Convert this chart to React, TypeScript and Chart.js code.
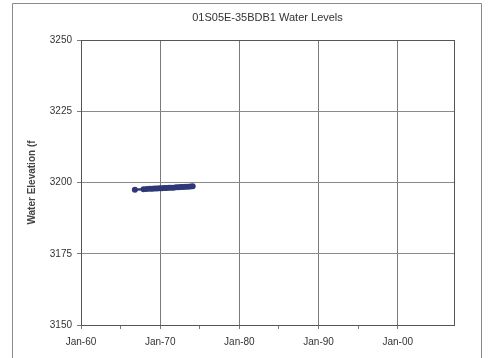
import React, { useEffect, useRef } from "react";
import { Chart, registerables } from "chart.js";

Chart.register(...registerables);

const chartTitle = "01S05E-35BDB1 Water Levels";
const yAxisTitle = "Water Elevation (f";
const xTickYears = [1960, 1970, 1980, 1990, 2000];
const xTickLabels = ["Jan-60", "Jan-70", "Jan-80", "Jan-90", "Jan-00"];
const measurementDates = [
  1966.8, 1967.9, 1968.3, 1968.7, 1969.0, 1969.3, 1969.6, 1969.9, 1970.2, 1970.5,
  1970.8, 1971.1, 1971.4, 1971.7, 1972.0, 1972.3, 1972.6, 1972.9, 1973.2, 1973.5,
  1973.8, 1974.1,
];
const waterElevations = [
  3197.5, 3197.6, 3197.7, 3197.8, 3197.8, 3197.9, 3197.9, 3198.0, 3198.0, 3198.1,
  3198.1, 3198.2, 3198.2, 3198.2, 3198.3, 3198.3, 3198.4, 3198.4, 3198.5, 3198.5,
  3198.6, 3198.7,
];

const framePlugin = {
  id: "frame",
  beforeDraw(chart: any) {
    const { ctx, chartArea, width } = chart;
    ctx.save();
    ctx.fillStyle = "#ffffff";
    ctx.fillRect(0, 0, chart.width, chart.height);
    ctx.strokeStyle = "#8a8a8a";
    ctx.lineWidth = 1;
    ctx.beginPath();
    ctx.moveTo(12.5, chart.height + 2);
    ctx.lineTo(12.5, 3.5);
    ctx.lineTo(width - 7.5, 3.5);
    ctx.lineTo(width - 7.5, chart.height + 2);
    ctx.stroke();
    // title
    ctx.fillStyle = "#333333";
    ctx.font = "11px 'Liberation Sans', Arial, sans-serif";
    ctx.textAlign = "center";
    ctx.textBaseline = "middle";
    ctx.fillText(chartTitle, (chartArea.left + chartArea.right) / 2, 18);
    // y axis title
    ctx.translate(32, (chartArea.top + chartArea.bottom) / 2);
    ctx.rotate(-Math.PI / 2);
    ctx.font = "bold 10px 'Liberation Sans', Arial, sans-serif";
    ctx.fillStyle = "#444444";
    ctx.fillText(yAxisTitle, 0, 0);
    ctx.restore();
  },
  afterDraw(chart: any) {
    const { ctx, chartArea } = chart;
    ctx.save();
    ctx.strokeStyle = "#555555";
    ctx.lineWidth = 1;
    ctx.strokeRect(
      Math.round(chartArea.left) + 0.5,
      Math.round(chartArea.top) + 0.5,
      Math.round(chartArea.right - chartArea.left),
      Math.round(chartArea.bottom - chartArea.top)
    );
    ctx.restore();
  },
};

export default function App() {
  const ref = useRef<HTMLCanvasElement | null>(null);
  useEffect(() => {
    document.body.style.margin = "0";
    const canvas = ref.current;
    if (!canvas) return;
    const chart = new Chart(canvas, {
      type: "line",
      data: {
        datasets: [
          {
            data: measurementDates.map((d, i) => ({ x: d, y: waterElevations[i] })),
            borderColor: "#2e3878",
            backgroundColor: "#2e3878",
            borderWidth: 2.5,
            pointRadius: 3,
            pointBorderWidth: 0,
            tension: 0,
          },
        ],
      },
      options: {
        animation: false,
        responsive: false,
        maintainAspectRatio: false,
        layout: { padding: { left: 0, right: 35, top: 40, bottom: 0 } },
        plugins: { legend: { display: false }, title: { display: false }, tooltip: { enabled: false } },
        scales: {
          x: {
            type: "linear",
            min: 1960,
            max: 2007.1,
            afterBuildTicks: (scale: any) => {
              scale.ticks = scale.ticks.filter((t: any) => Math.abs(t.value % 5) < 1e-6);
            },
            afterFit: (scale: any) => {
              scale.height = 33;
            },
            ticks: {
              stepSize: 5,
              maxRotation: 0,
              autoSkip: false,
              padding: 7,
              color: "#333333",
              font: { family: "'Liberation Sans', Arial, sans-serif", size: 10 },
              callback: (v: any) => {
                const idx = xTickYears.indexOf(Number(v));
                return idx >= 0 ? xTickLabels[idx] : "";
              },
            },
            grid: {
              color: (c: any) => (xTickYears.includes(c.tick?.value) ? "#7a7a7a" : "rgba(0,0,0,0)"),
              tickColor: "#7a7a7a",
              tickLength: 4,
            },
            border: { display: false },
          },
          y: {
            min: 3150,
            max: 3250,
            afterFit: (scale: any) => {
              scale.width = 81;
            },
            ticks: {
              stepSize: 25,
              padding: 5,
              color: "#333333",
              font: { family: "'Liberation Sans', Arial, sans-serif", size: 10 },
              callback: (v: any) => String(v),
            },
            grid: { color: "#8a8a8a", tickColor: "#7a7a7a", tickLength: 4 },
            border: { display: false },
          },
        },
      },
      plugins: [framePlugin],
    } as any);
    return () => chart.destroy();
  }, []);
  return (
    <div style={{ position: "absolute", left: 0, top: 0, width: 489, height: 358 }}>
      <canvas ref={ref} width={489} height={358} style={{ width: 489, height: 358 }} />
    </div>
  );
}
